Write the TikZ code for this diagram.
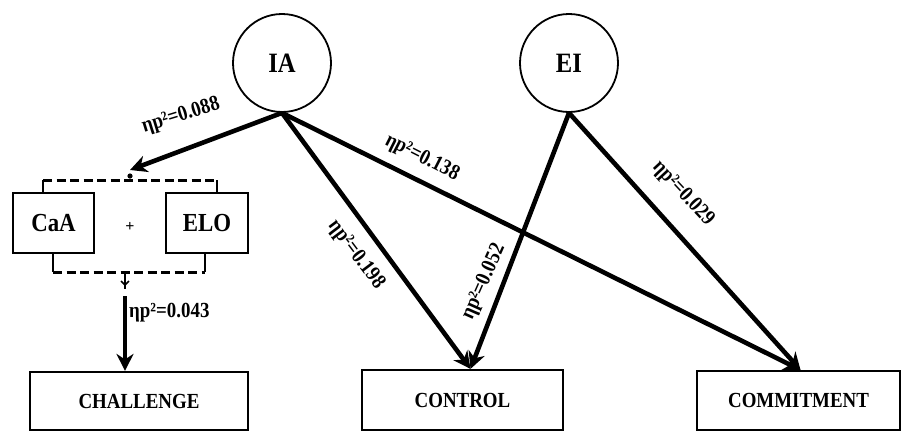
\documentclass[tikz,border=0pt]{standalone}
\usepackage{fontspec}
\setmainfont{Liberation Serif}
\newfontfamily\cnd[FakeStretch=0.88]{Liberation Serif}
\usetikzlibrary{arrows.meta,calc}
\begin{document}
\begin{tikzpicture}[x=1pt,y=-1pt,
  lat/.style={draw,circle,line width=1.8pt,minimum size=98pt,inner sep=0pt,font=\fontsize{28}{30}\selectfont\cnd\bfseries},
  obs/.style={draw,rectangle,line width=2.2pt,inner sep=0pt,font=\fontsize{21.5}{23}\selectfont\cnd\bfseries},
  obsbig/.style={obs,font=\fontsize{26}{28}\selectfont\cnd\bfseries},
  conn/.style={line width=4.6pt,-{Stealth[length=17pt,width=17pt]}},
  lab/.style={font=\fontsize{21.5}{23}\selectfont\cnd\bfseries,inner sep=1pt},
  brk/.style={line width=3pt,dash pattern=on 9pt off 4.5pt},
  tick/.style={line width=2.2pt}]
\useasboundingbox (0,0) rectangle (902,432);
\fill[white] (0,0) rectangle (902,432);
% latent variables
\node[lat] (IA) at (282,63) {IA};
\node[lat] (EI) at (569,63) {EI};
% boxes
\node[obsbig,minimum width=81pt,minimum height=60pt] (CaA) at (53.5,223) {CaA};
\node[obsbig,minimum width=82pt,minimum height=60pt] (ELO) at (207,223) {ELO};
\node[font=\fontsize{16}{16}\selectfont\bfseries] (plus) at (130,227) {+};
\node[obs,minimum width=218pt,minimum height=58pt] (CHALLENGE) at (139,401) {CHALLENGE};
\node[obs,minimum width=201pt,minimum height=60pt] (CONTROL) at (462.5,400) {CONTROL};
\node[obs,minimum width=203pt,minimum height=59pt] (COMMITMENT) at (798.5,400.5) {COMMITMENT};
% interaction bracket
\coordinate (bbot) at (125,272);
\draw[tick] (CaA.north -| 43,0) -- (43,180);
\draw[tick] (ELO.north -| 217,0) -- (217,180);
\draw[brk] (43,180) -- (217,180);
\draw[tick] (CaA.south -| 53,0) -- (53,272);
\draw[tick] (ELO.south -| 205,0) -- (205,272);
\draw[brk] (53,272) -- (205,272);
\coordinate (tipA) at (130,170);
\fill (130,176) circle (2.6pt);
\draw[line width=2pt] (bbot) -- (125,289);
\draw[line width=1.5pt] (121,281) -- (125,285) -- (129,281);
\coordinate (bstub) at (125,296);
% connectors
\draw[conn] (IA.south) -- (tipA);
\draw[conn] (IA.south) -- ($(CONTROL.north)+(8,0)$);
\draw[conn] (IA.south) -- ($(COMMITMENT.north)+(2,0)$);
\draw[conn] (EI.south) -- ($(CONTROL.north)+(8,0)$);
\draw[conn] (EI.south) -- ($(COMMITMENT.north)+(2,0)$);
\draw[conn] (bstub) -- (CHALLENGE.north -| bstub);
% labels
\node[lab,rotate=17] (l1) at (181,116) {ηp²=0.088};
\node[lab,rotate=-27] (l2) at (422,158) {ηp²=0.138};
\node[lab,rotate=-53] (l3) at (356,255) {ηp²=0.198};
\node[lab,rotate=66] (l4) at (484,282) {ηp²=0.052};
\node[lab,rotate=-47] (l5) at (683,194) {ηp²=0.029};
\node[lab,anchor=west] (l6) at (128,313) {ηp²=0.043};
\end{tikzpicture}
\end{document}
